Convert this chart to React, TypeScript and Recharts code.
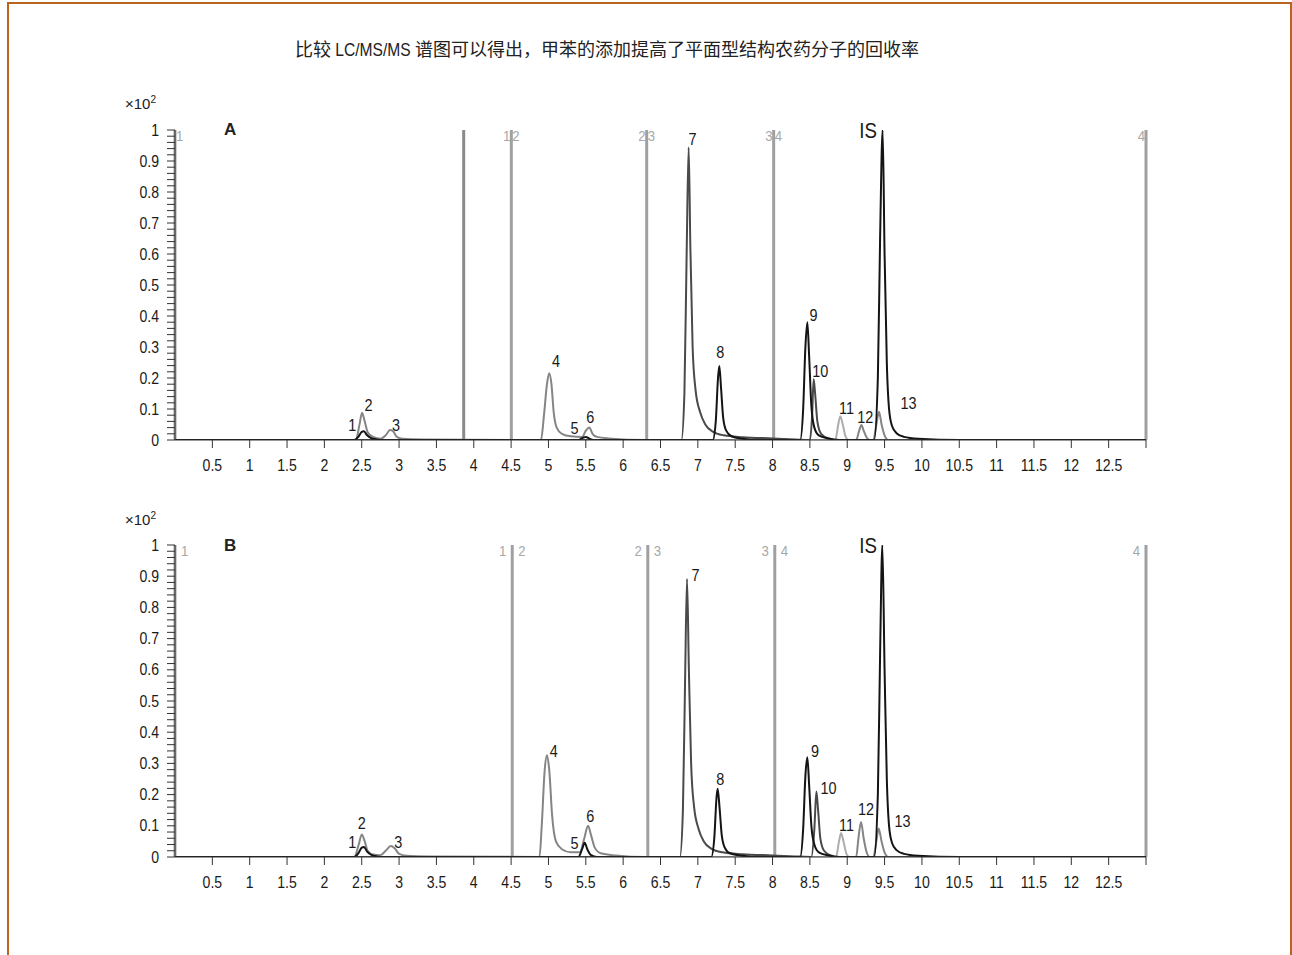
import React from "react"
import {
  ComposedChart,
  Line,
  XAxis,
  YAxis,
  ReferenceLine,
  ReferenceDot,
} from "recharts"

const FONT = '"Liberation Sans", Arial, sans-serif'

const titleStart = "比较 "
const titleLatin = "LC/MS/MS"
const titleEnd = " 谱图可以得出，甲苯的添加提高了平面型结构农药分子的回收率"

const xTicks = [0.5, 1, 1.5, 2, 2.5, 3, 3.5, 4, 4.5, 5, 5.5, 6, 6.5, 7, 7.5, 8, 8.5, 9, 9.5, 10, 10.5, 11, 11.5, 12, 12.5, 13]
const yTicks = [
  0, 0.02, 0.04, 0.06, 0.08, 0.1, 0.12, 0.14, 0.16, 0.18, 0.2, 0.22, 0.24, 0.26, 0.28, 0.3,
  0.32, 0.34, 0.36, 0.38, 0.4, 0.42, 0.44, 0.46, 0.48, 0.5, 0.52, 0.54, 0.56, 0.58, 0.6,
  0.62, 0.64, 0.66, 0.68, 0.7, 0.72, 0.74, 0.76, 0.78, 0.8, 0.82, 0.84, 0.86, 0.88, 0.9,
  0.92, 0.94, 0.96, 0.98, 1,
]

// retention time (min), response (x10^2) -- chart A
const aBlack = [
  [0, 0], [2.4, 0], [2.46, 0.012], [2.5, 0.026], [2.53, 0.028], [2.57, 0.016], [2.62, 0.007], [2.7, 0.002], [2.8, 0],
  [5.4, 0], [5.47, 0.008], [5.5, 0.01], [5.55, 0.004], [5.6, 0],
  [7.2, 0], [7.24, 0.06], [7.27, 0.2], [7.288, 0.239], [7.31, 0.17], [7.34, 0.07], [7.38, 0.03], [7.45, 0.012], [7.6, 0.004], [7.8, 0],
  [8.37, 0], [8.41, 0.1], [8.44, 0.3], [8.466, 0.38], [8.49, 0.27], [8.52, 0.11], [8.56, 0.04], [8.62, 0.015], [8.75, 0.005], [8.9, 0],
  [9.36, 0], [9.41, 0.2], [9.44, 0.65], [9.474, 1.0], [9.5, 0.6], [9.53, 0.25], [9.56, 0.1], [9.6, 0.045], [9.66, 0.022], [9.76, 0.01], [9.95, 0.004], [10.5, 0], [13, 0],
]
const aDark = [
  [0, 0], [6.78, 0], [6.82, 0.15], [6.85, 0.6], [6.877, 0.944], [6.9, 0.62], [6.93, 0.3], [6.97, 0.16], [7.03, 0.09], [7.1, 0.05], [7.2, 0.027], [7.35, 0.015], [7.6, 0.009], [8.0, 0.005], [8.3, 0.002],
  [8.5, 0], [8.53, 0.08], [8.55, 0.196], [8.57, 0.15], [8.6, 0.06], [8.65, 0.02], [8.75, 0.005], [8.9, 0], [13, 0],
]
const aGray = [
  [0, 0], [2.42, 0], [2.47, 0.05], [2.504, 0.088], [2.54, 0.06], [2.58, 0.025], [2.65, 0.01], [2.75, 0.004], [2.82, 0.015], [2.88, 0.032], [2.92, 0.028], [2.97, 0.01], [3.05, 0.004], [3.3, 0.002], [4.9, 0],
  [4.94, 0.08], [4.98, 0.18], [5.01, 0.215], [5.04, 0.18], [5.07, 0.09], [5.11, 0.04], [5.18, 0.02], [5.3, 0.012], [5.45, 0.01], [5.5, 0.03], [5.547, 0.04], [5.59, 0.02], [5.65, 0.01], [5.8, 0.005], [6.3, 0],
  [9.12, 0], [9.16, 0.03], [9.19, 0.048], [9.22, 0.03], [9.26, 0.008], [9.3, 0],
  [9.35, 0], [9.39, 0.05], [9.425, 0.091], [9.46, 0.05], [9.5, 0.015], [9.55, 0], [13, 0],
]
const aLight = [[0, 0], [8.84, 0], [8.88, 0.05], [8.907, 0.077], [8.94, 0.05], [8.98, 0.01], [9.02, 0], [13, 0]]

// chart B
const bBlack = [
  [0, 0], [2.4, 0], [2.46, 0.014], [2.5, 0.03], [2.53, 0.032], [2.57, 0.018], [2.62, 0.008], [2.7, 0.002], [2.8, 0],
  [5.4, 0], [5.45, 0.025], [5.485, 0.046], [5.52, 0.025], [5.57, 0.006], [5.65, 0],
  [7.18, 0], [7.22, 0.06], [7.25, 0.19], [7.265, 0.219], [7.29, 0.16], [7.32, 0.07], [7.36, 0.03], [7.43, 0.012], [7.6, 0.004], [7.8, 0],
  [8.37, 0], [8.41, 0.09], [8.44, 0.26], [8.466, 0.32], [8.49, 0.23], [8.52, 0.1], [8.56, 0.04], [8.62, 0.015], [8.75, 0.005], [8.9, 0],
  [9.36, 0], [9.41, 0.2], [9.44, 0.65], [9.47, 1.0], [9.5, 0.6], [9.53, 0.25], [9.56, 0.1], [9.6, 0.045], [9.66, 0.022], [9.76, 0.01], [9.95, 0.004], [10.5, 0], [13, 0],
]
const bDark = [
  [0, 0], [6.76, 0], [6.8, 0.15], [6.83, 0.58], [6.855, 0.891], [6.88, 0.6], [6.91, 0.3], [6.95, 0.16], [7.01, 0.09], [7.08, 0.05], [7.18, 0.027], [7.33, 0.015], [7.6, 0.009], [8.0, 0.005], [8.3, 0.002],
  [8.52, 0], [8.56, 0.09], [8.587, 0.21], [8.61, 0.15], [8.64, 0.06], [8.69, 0.02], [8.78, 0.005], [8.9, 0], [13, 0],
]
const bGray = [
  [0, 0], [2.4, 0], [2.46, 0.04], [2.5, 0.072], [2.54, 0.05], [2.58, 0.02], [2.65, 0.008], [2.75, 0.006], [2.82, 0.02], [2.89, 0.035], [2.94, 0.028], [3.0, 0.01], [3.1, 0.004], [3.4, 0.002], [4.88, 0],
  [4.91, 0.1], [4.95, 0.28], [4.98, 0.326], [5.01, 0.28], [5.05, 0.13], [5.1, 0.05], [5.18, 0.025], [5.3, 0.015], [5.42, 0.015], [5.48, 0.06], [5.53, 0.1], [5.57, 0.07], [5.62, 0.03], [5.7, 0.012], [5.9, 0.005], [6.3, 0],
  [9.12, 0], [9.15, 0.06], [9.185, 0.112], [9.22, 0.06], [9.26, 0.015], [9.3, 0],
  [9.35, 0], [9.39, 0.05], [9.42, 0.091], [9.46, 0.05], [9.5, 0.015], [9.55, 0], [13, 0],
]
const bLight = [[0, 0], [8.85, 0], [8.89, 0.05], [8.917, 0.077], [8.95, 0.05], [8.99, 0.01], [9.03, 0], [13, 0]]

// segment markers: time, left label, right label
const aSegments = [
  { t: 0, l: "", r: "1" },
  { t: 3.865, l: "", r: "" },
  { t: 4.503, l: "1", r: "2" },
  { t: 6.315, l: "2", r: "3" },
  { t: 8.015, l: "3", r: "4" },
  { t: 13, l: "4", r: "" },
]
const bSegments = [
  { t: 0, l: "", r: "1" },
  { t: 4.515, l: "1", r: "2" },
  { t: 6.33, l: "2", r: "3" },
  { t: 8.03, l: "3", r: "4" },
  { t: 13, l: "4", r: "" },
]

const aPeakLabels = [
  { text: "1", t: 2.375, v: 0.048 },
  { text: "2", t: 2.59, v: 0.113 },
  { text: "3", t: 2.96, v: 0.048 },
  { text: "4", t: 5.1, v: 0.255 },
  { text: "5", t: 5.35, v: 0.039 },
  { text: "6", t: 5.56, v: 0.074 },
  { text: "7", t: 6.93, v: 0.97 },
  { text: "8", t: 7.3, v: 0.284 },
  { text: "9", t: 8.55, v: 0.403 },
  { text: "10", t: 8.64, v: 0.223 },
  { text: "11", t: 8.99, v: 0.103 },
  { text: "12", t: 9.24, v: 0.074 },
  { text: "13", t: 9.82, v: 0.119 },
  { text: "IS", t: 9.28, v: 1.0 },
]
const bPeakLabels = [
  { text: "1", t: 2.375, v: 0.048 },
  { text: "2", t: 2.5, v: 0.109 },
  { text: "3", t: 2.99, v: 0.048 },
  { text: "4", t: 5.07, v: 0.34 },
  { text: "5", t: 5.35, v: 0.045 },
  { text: "6", t: 5.56, v: 0.131 },
  { text: "7", t: 6.97, v: 0.905 },
  { text: "8", t: 7.3, v: 0.25 },
  { text: "9", t: 8.57, v: 0.34 },
  { text: "10", t: 8.75, v: 0.221 },
  { text: "11", t: 8.99, v: 0.103 },
  { text: "12", t: 9.25, v: 0.154 },
  { text: "13", t: 9.74, v: 0.115 },
  { text: "IS", t: 9.28, v: 1.0 },
]

const toPts = (arr: number[][]) => arr.map(([t, v]) => ({ t, v }))

const fmtY = (v: number) => (v === 0 ? "0" : v === 1 ? "1" : v.toFixed(1))

// slightly narrowed text, like the condensed face of the original figure
const CondText = ({ x, y, anchor, size, fill, squeeze = 0.88, children }: any) => (
  <text
    transform={`translate(${x},${y}) scale(${squeeze},1)`}
    textAnchor={anchor}
    fontSize={size}
    fill={fill}
    fontFamily={FONT}
  >
    {children}
  </text>
)

const YTick = (props: any) => {
  const { x, y, payload } = props
  const v = payload.value
  const major = Math.round(v * 100) % 10 === 0
  return (
    <g>
      <line x1={x - 8} x2={x} y1={y} y2={y} stroke="#333" strokeWidth={1} />
      {major && (
        <CondText x={x - 16} y={y + 5.5} anchor="end" size={16} fill="#1a1a1a">
          {fmtY(v)}
        </CondText>
      )}
    </g>
  )
}

const XTick = (props: any) => {
  const { x, y, payload } = props
  const v = payload.value
  return (
    <g>
      <line x1={x} x2={x} y1={y} y2={y + 8} stroke="#333" strokeWidth={1} />
      {v < 13 && (
        <CondText x={x} y={y + 31} anchor="middle" size={16} fill="#1a1a1a">
          {String(v)}
        </CondText>
      )}
    </g>
  )
}

const SegLabel = (props: any) => {
  const { viewBox, left, right, gap } = props
  if (!viewBox) return null
  const x = viewBox.x
  const y = viewBox.y + 11
  return (
    <g>
      {left && (
        <CondText x={x - gap} y={y} anchor="end" size={15} fill="#a8a8a8">
          {left}
        </CondText>
      )}
      {right && (
        <CondText x={x + gap} y={y} anchor="start" size={15} fill="#a8a8a8">
          {right}
        </CondText>
      )}
    </g>
  )
}

const PeakLabel = (props: any) => {
  const { viewBox, text } = props
  if (!viewBox) return null
  const big = text === "IS"
  const size = big ? 22 : 17
  return (
    <CondText x={viewBox.x} y={viewBox.y + size * 0.36} anchor="middle" size={size} fill="#1a1a1a" squeeze={0.85}>
      {text}
    </CondText>
  )
}

type Props = {
  height: number
  series: { data: number[][]; color: string }[]
  segments: { t: number; l: string; r: string }[]
  labels: { text: string; t: number; v: number }[]
  gap: number
}

const Chromatogram = ({ height, series, segments, labels, gap }: Props) => (
  <ComposedChart width={1292} height={height} margin={{ top: 130, right: 146, bottom: 10, left: 115 }}>
    <XAxis
      dataKey="t"
      type="number"
      domain={[0, 13]}
      ticks={xTicks}
      interval={0}
      tick={<XTick />}
      tickLine={false}
      tickSize={0}
      tickMargin={0}
      height={40}
      axisLine={{ stroke: "#333" }}
      allowDuplicatedCategory={false}
    />
    <YAxis
      type="number"
      domain={[0, 1]}
      ticks={yTicks}
      interval={0}
      tick={<YTick />}
      tickLine={false}
      tickSize={0}
      tickMargin={0}
      width={60}
      axisLine={{ stroke: "#333" }}
      allowDataOverflow
    />
    {segments.map((s, i) => (
      <ReferenceLine
        key={"s" + i}
        x={s.t}
        stroke={s.l === "" && s.r === "" ? "#8a8a8a" : "#a0a0a0"}
        strokeWidth={3}
        ifOverflow="visible"
        label={<SegLabel left={s.l} right={s.r} gap={gap} />}
      />
    ))}
    {series.map((s, i) => (
      <Line
        key={"l" + i}
        data={toPts(s.data)}
        dataKey="v"
        type="monotone"
        stroke={s.color}
        strokeWidth={2}
        dot={false}
        isAnimationActive={false}
      />
    ))}
    {labels.map((l, i) => (
      <ReferenceDot
        key={"p" + i}
        x={l.t}
        y={l.v}
        r={0}
        fill="none"
        stroke="none"
        ifOverflow="visible"
        label={<PeakLabel text={l.text} />}
      />
    ))}
  </ComposedChart>
)

const textStyle: React.CSSProperties = { position: "absolute", fontFamily: FONT, color: "#222" }

export default function App() {
  return (
    <div style={{ position: "absolute", left: 0, top: 0, width: 1292, height: 955, background: "#fff", overflow: "hidden" }}>
      <div style={{ position: "absolute", left: 7, top: 2, width: 1281, height: 1000, border: "2px solid #b8651f", borderBottom: "none" }} />
      <div
        style={{
          ...textStyle,
          left: 0,
          width: 1214,
          top: 35,
          textAlign: "center",
          fontSize: 18,
          whiteSpace: "nowrap",
          fontFamily: '"Noto Sans CJK SC", sans-serif',
        }}
      >
        {titleStart}
        <span style={{ display: "inline-block", transform: "scaleX(0.82)", margin: "0 -8px", fontFamily: FONT, fontSize: 19 }}>{titleLatin}</span>
        {titleEnd}
      </div>

      <div style={{ position: "absolute", left: 0, top: 0 }}>
        <Chromatogram
          height={490}
          series={[
            { data: aGray, color: "#858585" },
            { data: aLight, color: "#adadad" },
            { data: aDark, color: "#4a4a4a" },
            { data: aBlack, color: "#141414" },
          ]}
          segments={aSegments}
          labels={aPeakLabels}
          gap={1}
        />
      </div>
      <div style={{ ...textStyle, left: 125, top: 94, fontSize: 15 }}>
        ×10<sup style={{ fontSize: 10 }}>2</sup>
      </div>
      <div style={{ ...textStyle, left: 224, top: 120, fontSize: 17, fontWeight: "bold" }}>A</div>

      <div style={{ position: "absolute", left: 0, top: 415 }}>
        <Chromatogram
          height={492}
          series={[
            { data: bGray, color: "#858585" },
            { data: bLight, color: "#adadad" },
            { data: bDark, color: "#4a4a4a" },
            { data: bBlack, color: "#141414" },
          ]}
          segments={bSegments}
          labels={bPeakLabels}
          gap={6}
        />
      </div>
      <div style={{ ...textStyle, left: 125, top: 510, fontSize: 15 }}>
        ×10<sup style={{ fontSize: 10 }}>2</sup>
      </div>
      <div style={{ ...textStyle, left: 224, top: 536, fontSize: 17, fontWeight: "bold" }}>B</div>
    </div>
  )
}
